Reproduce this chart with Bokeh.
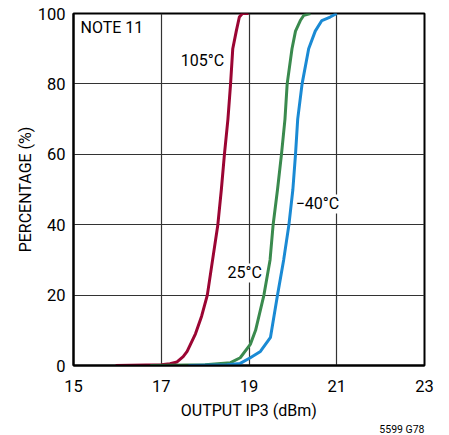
from bokeh.plotting import figure
from bokeh.models import Range1d, FixedTicker, Label, Title
from bokeh.embed import file_html
from bokeh.resources import INLINE

# Data
x_ticks = [15, 17, 19, 21, 23]
y_ticks = [0, 20, 40, 60, 80, 100]

t105_x = [15.96, 17.0, 17.2, 17.36, 17.5, 17.59, 17.78, 17.92, 18.05, 18.17, 18.29, 18.37, 18.44, 18.52, 18.58, 18.63, 18.71, 18.78, 18.85, 18.99]
t105_y = [0, 0.2, 0.5, 1, 2.5, 4, 9, 14, 20, 30, 40, 50, 60, 70, 80, 90, 95, 99, 100, 100]

t25_x = [16.75, 18.0, 18.58, 18.8, 19.03, 19.15, 19.34, 19.48, 19.55, 19.65, 19.74, 19.82, 19.87, 19.98, 20.06, 20.17, 20.25, 20.4]
t25_y = [0, 0.2, 0.8, 2.2, 6, 10, 20, 30, 40, 50, 60, 70, 80, 90, 95, 98, 99.5, 100]

tm40_x = [17.62, 18.5, 18.8, 19.03, 19.26, 19.49, 19.65, 19.79, 19.91, 20.0, 20.06, 20.11, 20.21, 20.36, 20.51, 20.66, 20.85, 21.0]
tm40_y = [0, 0.2, 0.6, 2.2, 4, 8, 20, 30, 40, 50, 60, 70, 80, 90, 95, 98, 99, 100]

FONT = "Roboto"

p = figure(frame_width=351, frame_height=352, output_backend="svg", toolbar_location=None,
           x_range=Range1d(15, 23), y_range=Range1d(0, 100),
           min_border_left=73, min_border_right=11, min_border_top=13, min_border_bottom=60)
p.outline_line_color = "black"
p.outline_line_width = 2

for ax in (p.xaxis[0], p.yaxis[0]):
    ax.major_tick_line_color = None
    ax.minor_tick_line_color = None
    ax.axis_line_color = "black"
    ax.axis_line_width = 2
    ax.major_label_text_font = FONT
    ax.major_label_text_font_size = "16.5px"
    ax.major_label_text_color = "black"
    ax.axis_label_text_font = FONT
    ax.axis_label_text_font_size = "16px"
    ax.axis_label_text_font_style = "normal"
    ax.axis_label_text_color = "black"

p.xaxis.ticker = FixedTicker(ticks=x_ticks)
p.yaxis.ticker = FixedTicker(ticks=y_ticks)
p.xaxis.axis_label = "OUTPUT IP3 (dBm)"
p.yaxis.axis_label = "PERCENTAGE (%)"
p.xaxis.major_label_standoff = 8
p.yaxis.major_label_standoff = 2
p.xaxis.axis_label_standoff = 6
p.yaxis.axis_label_standoff = 0

p.xgrid.ticker = FixedTicker(ticks=x_ticks)
p.ygrid.ticker = FixedTicker(ticks=y_ticks)
for g in (p.xgrid[0], p.ygrid[0]):
    g.grid_line_color = "#333333"
    g.grid_line_width = 1.2

p.line(t105_x, t105_y, line_color="#9b0533", line_width=3)
p.line(t25_x, t25_y, line_color="#3a8a4e", line_width=3)
p.line(tm40_x, tm40_y, line_color="#1a8ad4", line_width=3)

def lab(x, y, t, align="center"):
    p.add_layout(Label(x=x, y=y, text=t, text_font=FONT, text_font_size="16px",
                       text_align=align, text_baseline="middle", text_color="black",
                       background_fill_color="white", background_fill_alpha=1.0))

lab(15.16, 96, "NOTE 11", "left")
lab(17.94, 86.6, "105°C")
lab(18.9, 26.3, "25°C")
lab(20.56, 45.9, "−40°C")

p.add_layout(Title(text="5599 G78", align="right", vertical_align="top", text_font=FONT,
                   text_font_size="10.5px", text_font_style="normal", text_color="black",
                   standoff=0), "below")

open("out.html", "w").write(file_html(p, INLINE))
